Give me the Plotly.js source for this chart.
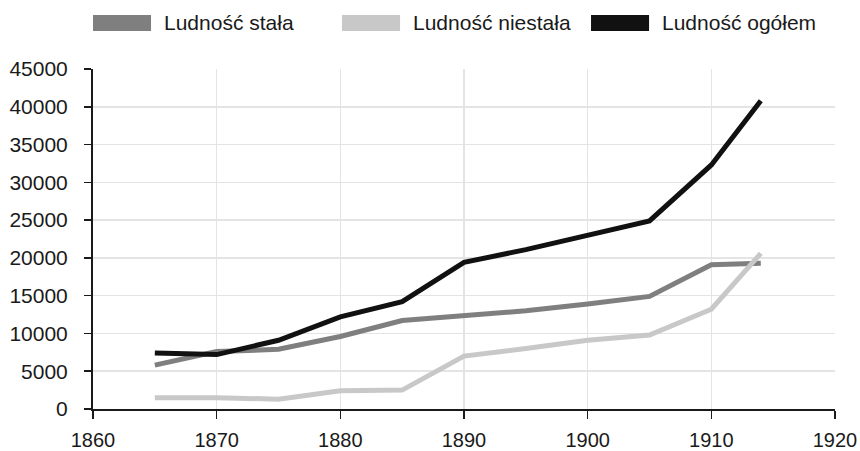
<!DOCTYPE html>
<html>
<head>
<meta charset="utf-8">
<script src="https://cdn.plot.ly/plotly-3.0.1.min.js"></script>
<style>html,body{margin:0;padding:0;background:#fff;}#chart{width:860px;height:451px;}</style>
</head>
<body>
<div id="chart"></div>
<script>
const years = [1865, 1870, 1875, 1880, 1885, 1890, 1895, 1900, 1905, 1910, 1914];
const stala = [5800, 7600, 7900, 9600, 11700, 12400, 13000, 13900, 14900, 19100, 19300];
const niestala = [1500, 1500, 1300, 2400, 2500, 7000, 8000, 9100, 9800, 13200, 20600];
const ogolem = [7400, 7200, 9100, 12200, 14200, 19400, 21100, 23000, 24900, 32300, 40800];
const names = ['Ludność stała', 'Ludność niestała', 'Ludność ogółem'];
const colors = ['#7f7f7f', '#c8c8c8', '#111111'];
const xTicks = [1860, 1870, 1880, 1890, 1900, 1910, 1920];
const yTicks = [0, 5000, 10000, 15000, 20000, 25000, 30000, 35000, 40000, 45000];
const series = [stala, niestala, ogolem];

const traces = series.map((s, i) => ({
  x: years, y: s, type: 'scatter', mode: 'lines', name: names[i],
  line: {color: colors[i], width: 5}, showlegend: false, hoverinfo: 'skip'
}));

// Legend drawn as swatches + labels above the plot (paper coordinates)
const legendSwatchX = [0, 0.3356, 0.6712];
const swatchW = 0.0782;
const legendTextGap = 0.0148;
const shapes = [];
const annotations = [];
names.forEach((n, i) => {
  shapes.push({type: 'rect', xref: 'paper', yref: 'paper',
    x0: legendSwatchX[i], x1: legendSwatchX[i] + swatchW, y0: 1.1118, y1: 1.1588,
    fillcolor: colors[i], line: {width: 0}});
  annotations.push({xref: 'paper', yref: 'paper', x: legendSwatchX[i] + swatchW + legendTextGap,
    y: 1.1353, xanchor: 'left', yanchor: 'middle', showarrow: false, text: n,
    font: {family: 'Liberation Sans, Arial, sans-serif', size: 21, color: '#1a1a1a'}});
});

const layout = {
  width: 860, height: 451,
  margin: {l: 93, r: 25, t: 69, b: 42},
  paper_bgcolor: '#ffffff', plot_bgcolor: '#ffffff',
  font: {family: 'Liberation Sans, Arial, sans-serif', size: 20, color: '#1a1a1a'},
  showlegend: false,
  shapes: shapes,
  annotations: annotations,
  xaxis: {range: [1860, 1920], tickvals: xTicks, ticktext: xTicks.map(String),
    showgrid: true, gridcolor: '#e4e4e4', gridwidth: 1.5,
    showline: true, linecolor: '#1a1a1a', linewidth: 2,
    ticks: 'outside', ticklen: 8, tickwidth: 1.5, tickcolor: '#1a1a1a',
    zeroline: false, fixedrange: true, ticklabelstandoff: 4,
    tickfont: {size: 20}},
  yaxis: {range: [0, 45000], tickvals: yTicks, ticktext: yTicks.map(String),
    showgrid: true, gridcolor: '#e4e4e4', gridwidth: 1.5,
    showline: true, linecolor: '#1a1a1a', linewidth: 2,
    ticks: 'outside', ticklen: 7, tickwidth: 1.5, tickcolor: '#1a1a1a',
    zeroline: false, fixedrange: true, ticklabelstandoff: 12,
    tickfont: {size: 21}}
};

Plotly.newPlot('chart', traces, layout, {displayModeBar: false, staticPlot: true});
</script>
</body>
</html>
